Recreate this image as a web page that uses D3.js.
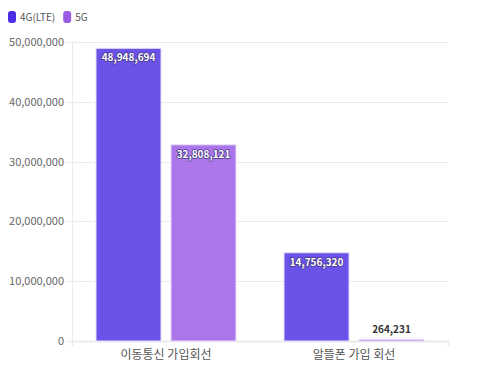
<!DOCTYPE html>
<html><head><meta charset="utf-8">
<script src="https://cdn.jsdelivr.net/npm/d3@7"></script>
<style>body{margin:0;background:#fff;font-family:"Noto Sans CJK KR","Noto Sans",sans-serif;}</style>
</head><body>
<svg id="c" width="500" height="375"></svg>
<script>
const categories = ["이동통신 가입회선", "알뜰폰 가입 회선"];
const seriesNames = ["4G(LTE)", "5G"];
const lteValues = [48948694, 14756320];
const fiveGValues = [32808121, 264231];
const yTicks = [0, 10000000, 20000000, 30000000, 40000000, 50000000];
const legendColors = ["#4a2ee6", "#9b5be3"];
const barColors = ["#6a53e9", "#aa76e9"];

const svg = d3.select("#c");
const m = {l:72, r:52, t:42, b:34};
const W = 500, H = 375;
const x = d3.scaleBand().domain(categories).range([m.l, W - m.r]).paddingInner(0).paddingOuter(0);
const y = d3.scaleLinear().domain([0, 50000000]).range([H - m.b, m.t]);
const x1 = d3.scaleBand().domain(seriesNames).range([0, x.bandwidth()]).paddingInner(0.133).paddingOuter(0.32);
const fmt = d3.format(",");

// grid
svg.append("g").selectAll("line").data(yTicks).join("line")
  .attr("x1", m.l - 6).attr("x2", W - m.r)
  .attr("y1", d => Math.round(y(d)) + 0.5).attr("y2", d => Math.round(y(d)) + 0.5)
  .attr("stroke", "#ebebeb").attr("stroke-width", 1);

// y axis
const ya = svg.append("g").attr("transform", `translate(${m.l},0)`)
  .call(d3.axisLeft(y).tickValues(yTicks).tickFormat(fmt).tickSize(0).tickPadding(8));
ya.select(".domain").attr("stroke", "#ebebeb");
ya.selectAll("text").attr("fill", "#666").attr("font-size", 11).attr("font-family", "'Noto Sans CJK KR','Noto Sans',sans-serif");

// x axis
const xa = svg.append("g").attr("transform", `translate(0,${H - m.b})`)
  .call(d3.axisBottom(x).tickSize(5).tickPadding(4));
xa.select(".domain").attr("stroke", "#ebebeb").attr("stroke-width", 2);
xa.selectAll(".tick line").attr("stroke", "#ebebeb");
xa.selectAll("text").attr("fill", "#555").attr("font-size", 12).attr("font-family", "'Noto Sans CJK KR','Noto Sans',sans-serif");

const data = categories.map((c, i) => ({c, vals: [lteValues[i], fiveGValues[i]]}));
const g = svg.append("g");
data.forEach(d => {
  d.vals.forEach((v, j) => {
    const bx = x(d.c) + x1(seriesNames[j]);
    const bw = x1.bandwidth();
    g.append("rect").attr("x", bx).attr("y", y(v)).attr("width", bw).attr("height", y(0) - y(v))
      .attr("fill", barColors[j]).attr("stroke", "#e8e0fb").attr("stroke-width", 1);
    const small = (y(0) - y(v)) < 20;
    const t = g.append("text").attr("x", bx + bw / 2)
      .attr("y", small ? y(v) - 6 : y(v) + 13)
      .attr("text-anchor", "middle").attr("font-size", 10).attr("font-weight", "bold")
      .attr("font-family", "'Noto Sans CJK KR','Noto Sans',sans-serif")
      .text(fmt(v));
    if (small) {
      t.attr("fill", "#333");
    } else {
      t.attr("fill", "#fff").attr("stroke", "#4a3a8a").attr("stroke-width", 1.6)
        .attr("stroke-linejoin", "round").attr("paint-order", "stroke");
    }
  });
});

// legend
const lg = svg.append("g");
let lx = 8;
seriesNames.forEach((s, i) => {
  lg.append("rect").attr("x", lx).attr("y", 11).attr("width", 8).attr("height", 12).attr("rx", 3)
    .attr("fill", legendColors[i]);
  const t = lg.append("text").attr("x", lx + 12).attr("y", 21).attr("font-size", 10).attr("fill", "#555")
    .attr("font-family", "'Noto Sans CJK KR','Noto Sans',sans-serif").text(s);
  lx += 12 + t.node().getComputedTextLength() + 8;
});
</script>
</body></html>
